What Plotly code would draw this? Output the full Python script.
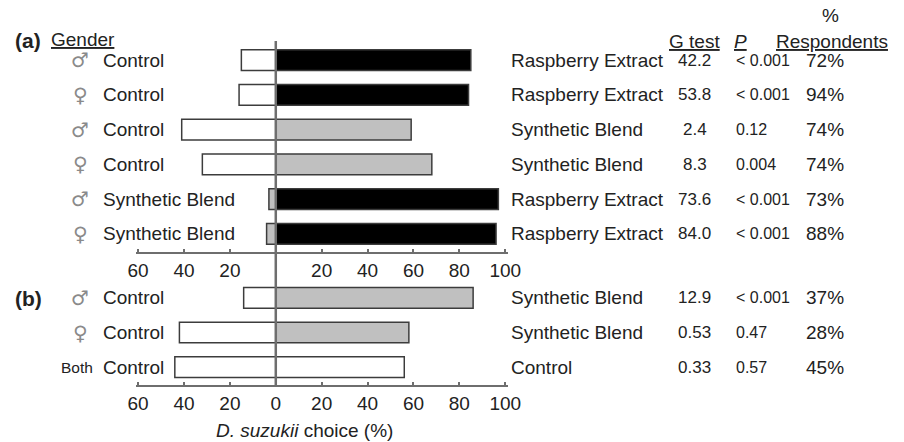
import plotly.graph_objects as go

# ---------------- data ----------------
# panel (a)
gender_a = ["♂", "♀", "♂", "♀", "♂", "♀"]
left_label_a = ["Control", "Control", "Control", "Control", "Synthetic Blend", "Synthetic Blend"]
right_label_a = ["Raspberry Extract", "Raspberry Extract", "Synthetic Blend", "Synthetic Blend",
                 "Raspberry Extract", "Raspberry Extract"]
left_pct_a = [15, 16, 41, 32, 3, 4]
right_pct_a = [85, 84, 59, 68, 97, 96]
gtest_a = ["42.2", "53.8", "2.4", "8.3", "73.6", "84.0"]
p_a = ["< 0.001", "< 0.001", "0.12", "0.004", "< 0.001", "< 0.001"]
resp_a = ["72%", "94%", "74%", "74%", "73%", "88%"]

# panel (b)
gender_b = ["♂", "♀", "Both"]
left_label_b = ["Control", "Control", "Control"]
right_label_b = ["Synthetic Blend", "Synthetic Blend", "Control"]
left_pct_b = [14, 42, 44]
right_pct_b = [86, 58, 56]
gtest_b = ["12.9", "0.53", "0.33"]
p_b = ["< 0.001", "0.47", "0.57"]
resp_b = ["37%", "28%", "45%"]

tick_vals = [-60, -40, -20, 0, 20, 40, 60, 80, 100]
tick_text_a = ["60", "40", "20", "", "20", "40", "60", "80", "100"]
tick_text_b = ["60", "40", "20", "0", "20", "40", "60", "80", "100"]

# ---------------- styling ----------------
FONT = "Liberation Sans, Arial, sans-serif"
FS = 19
COLORS = {"Control": "#ffffff", "Synthetic Blend": "#c0c0c0", "Raspberry Extract": "#000000"}
EDGE = "#3c3c3c"
W, H = 904, 442


def py(px):
    return 1 - px / H


def px_x(px):
    return px / W


fig = go.Figure()


def add_panel(lbl_l, lbl_r, vl, vr, xa, ya):
    rows = list(range(len(vl)))
    fig.add_trace(go.Bar(
        y=rows, x=[-v for v in vl], orientation="h", width=0.6,
        marker=dict(color=[COLORS[l] for l in lbl_l], line=dict(color=EDGE, width=1.5)),
        xaxis=xa, yaxis=ya, showlegend=False, hoverinfo="skip"))
    fig.add_trace(go.Bar(
        y=rows, x=vr, orientation="h", width=0.6,
        marker=dict(color=[COLORS[l] for l in lbl_r], line=dict(color=EDGE, width=1.5)),
        xaxis=xa, yaxis=ya, showlegend=False, hoverinfo="skip"))


add_panel(left_label_a, right_label_a, left_pct_a, right_pct_a, "x", "y")
add_panel(left_label_b, right_label_b, left_pct_b, right_pct_b, "x2", "y2")

xdom = [px_x(131), px_x(512)]
axis_common = dict(range=[-61, 101], domain=xdom, tickvals=tick_vals, showgrid=False,
                   zeroline=False, showline=True, linecolor="#6e6e6e", linewidth=1.5,
                   ticks="inside", ticklen=3, tickcolor="#6e6e6e", tickwidth=1.5,
                   tickfont=dict(family=FONT, size=FS, color="#222"), fixedrange=True)

fig.update_layout(
    width=W, height=H, margin=dict(l=0, r=0, t=0, b=0),
    paper_bgcolor="white", plot_bgcolor="white", barmode="overlay",
    xaxis=dict(**axis_common, anchor="y", ticktext=tick_text_a),
    xaxis2=dict(**axis_common, anchor="y2", ticktext=tick_text_b),
    yaxis=dict(domain=[py(252), py(42)], range=[5.52, -0.52], visible=False, fixedrange=True),
    yaxis2=dict(domain=[py(385), py(280)], range=[2.52, -0.52], visible=False, fixedrange=True),
)

# continuous zero line through both panels
fig.add_shape(type="line", xref="x", yref="paper", x0=0, x1=0, y0=py(386), y1=py(41),
              line=dict(color="#6e6e6e", width=2.5), layer="above")

ann = []


def txt(x, y, s, yref="paper", size=FS, xanchor="left", color="#222", family=FONT):
    ann.append(dict(x=x, y=y, xref="paper", yref=yref, text=s, showarrow=False,
                    xanchor=xanchor, yanchor="middle", borderpad=0,
                    font=dict(family=family, size=size, color=color)))


def rows_text(genders, lefts, rights, gs, ps, rs, yref):
    for i in range(len(lefts)):
        g = genders[i]
        if g == "Both":
            txt(px_x(88), i, g, yref=yref, size=15.5, xanchor="right")
        else:
            txt(px_x(74), i, g, yref=yref, size=20, xanchor="center", color="#8a8a8a",
                family="DejaVu Sans, sans-serif")
        txt(px_x(96), i, lefts[i], yref=yref)
        txt(px_x(515), i, rights[i], yref=yref)
        txt(px_x(704), i, gs[i], yref=yref, size=17, xanchor="center")
        txt(px_x(745), i, ps[i], yref=yref, size=16)
        txt(px_x(837), i, rs[i], yref=yref, xanchor="center")


rows_text(gender_a, left_label_a, right_label_a, gtest_a, p_a, resp_a, "y")
rows_text(gender_b, left_label_b, right_label_b, gtest_b, p_b, resp_b, "y2")

# headers
txt(px_x(6), py(40), "<b>(a)</b>", size=21)
txt(px_x(43), py(39), "<u>Gender</u>", size=FS)
txt(px_x(6), py(298), "<b>(b)</b>", size=21)
txt(px_x(704), py(41), "<u>G test</u>", xanchor="center")
txt(px_x(751), py(41), "<u><i>P</i></u>", xanchor="center")
txt(px_x(845), py(41), "<u>Respondents</u>", xanchor="center")
txt(px_x(843), py(16), "%", xanchor="center")

# axis title
txt(px_x(304), py(430), "<i>D. suzukii</i> choice (%)", xanchor="center")

fig.update_layout(annotations=ann)
fig.write_html("out.html", config={"displayModeBar": False},
               post_script="document.body.style.margin='0';")
